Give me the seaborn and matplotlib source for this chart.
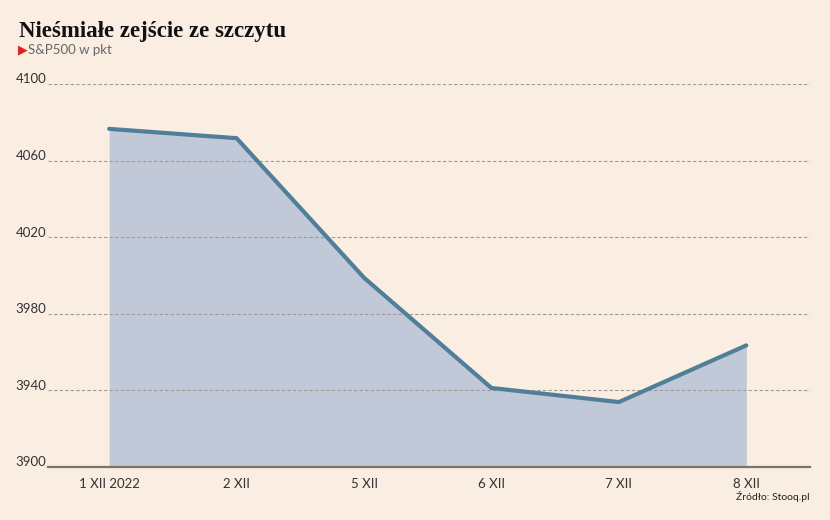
import matplotlib
matplotlib.use("Agg")
import matplotlib.pyplot as plt
import seaborn as sns
import pandas as pd

# S&P500, close in points
dates = ["1 XII 2022", "2 XII", "5 XII", "6 XII", "7 XII", "8 XII"]
values = [4076.57, 4071.70, 3998.84, 3941.26, 3933.92, 3963.51]
yticks = [3900, 3940, 3980, 4020, 4060, 4100]

bg = "#faede1"
line_col = "#4f7f99"
fill_col = "#c1c8d7"

sns.set_theme(style="white")
plt.rcParams["font.family"] = ["Lato", "DejaVu Sans"]

df = pd.DataFrame({"pos": range(len(dates)), "val": values})

fig = plt.figure(figsize=(8.3, 5.2), dpi=100, facecolor=bg)
ax = fig.add_axes([48 / 830, 1 - 467 / 520, (810 - 48) / 830, (467 - 84) / 520])
ax.set_facecolor(bg)

ax.fill_between(df["pos"], df["val"], 3900, color=fill_col, lw=0, zorder=1)
sns.lineplot(data=df, x="pos", y="val", ax=ax, color=line_col, lw=3.0, zorder=3)

ax.set_xlim(-0.48, 5.5)
ax.set_ylim(3900, 4100)
ax.set_yticks(yticks)
ax.set_yticklabels([str(t) for t in yticks], fontsize=9.5, color="#333333")
for lab in ax.get_yticklabels():
    lab.set_va("center_baseline")
ax.set_xticks(range(len(dates)))
ax.set_xticklabels(dates, fontsize=9.5, color="#333333")
ax.tick_params(axis="both", length=0)
ax.tick_params(axis="x", pad=8)
ax.tick_params(axis="y", pad=1)
ax.set_xlabel("")
ax.set_ylabel("")
# nudge y labels up so they sit on the grid lines
import matplotlib.transforms as mtrans
offset = mtrans.ScaledTranslation(0, 4 / 72, fig.dpi_scale_trans)
for lab in ax.get_yticklabels():
    lab.set_transform(lab.get_transform() + offset)

for t in yticks[1:]:
    ax.axhline(t, color="#a09a94", lw=0.8, ls=(0, (3, 2)), zorder=2)

for s in ["top", "right", "left"]:
    ax.spines[s].set_visible(False)
ax.spines["bottom"].set_color("#7d7268")
ax.spines["bottom"].set_linewidth(1.6)

fig.text(19 / 830, 1 - 31 / 520, "Nieśmiałe zejście ze szczytu", fontsize=16.5,
         fontweight="bold", family="Liberation Serif", color="#111111", va="center")
fig.text(18 / 830, 1 - 50 / 520, "\u25B6", fontsize=9, color="#e0201b",
         va="center", family="DejaVu Sans")
fig.text(28 / 830, 1 - 50 / 520, "S&P500 w pkt", fontsize=9.5, color="#666666",
         va="center")
fig.text(810 / 830, 1 - 496 / 520, "Źródło: Stooq.pl", fontsize=7.5, color="#222222",
         ha="right", va="center", fontstretch="condensed")

fig.savefig("out.png", dpi=100, facecolor=bg)
